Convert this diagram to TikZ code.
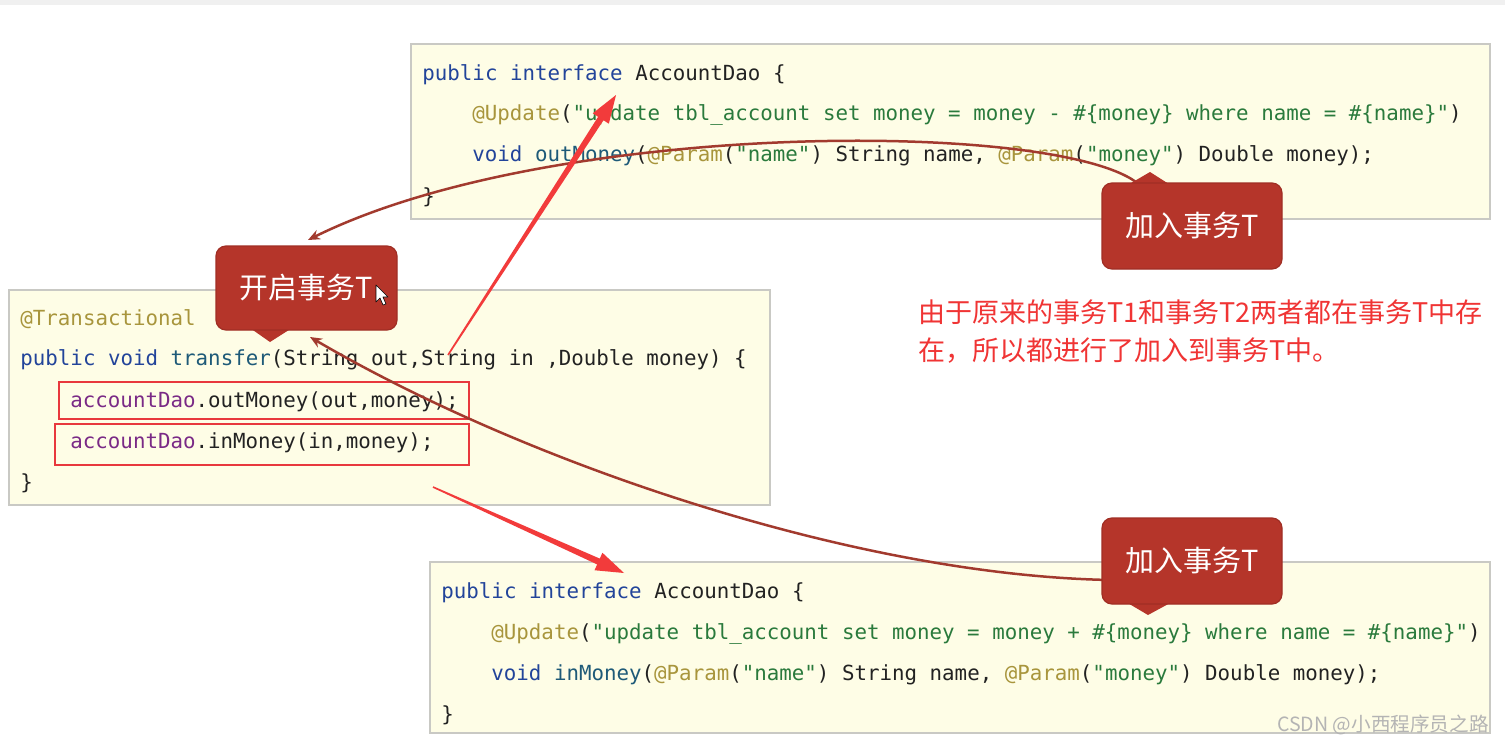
\documentclass[tikz,border=0pt]{standalone}
\usepackage{fontspec}
\usetikzlibrary{calc,arrows.meta}
\newfontfamily\codefont{DejaVu Sans Mono}
\newfontfamily\cjk{Noto Sans CJK SC}
\definecolor{boxfill}{HTML}{FEFDE6}
\definecolor{boxline}{HTML}{C9C9C4}
\definecolor{kwc}{HTML}{22449A}
\definecolor{fnc}{HTML}{1E5A78}
\definecolor{anc}{HTML}{A8953C}
\definecolor{stc}{HTML}{2A7A3C}
\definecolor{puc}{HTML}{7A2A86}
\definecolor{txtc}{HTML}{222222}
\definecolor{calred}{HTML}{B5352A}
\definecolor{calborder}{HTML}{A02E24}
\definecolor{brc}{HTML}{A23A2E}
\definecolor{redarr}{HTML}{F23B3B}
\definecolor{rbox}{HTML}{E8383D}
\definecolor{notered}{HTML}{F03434}
\definecolor{wmark}{HTML}{B4B4B4}
\newcommand\ckw[1]{\textcolor{kwc}{#1}}
\newcommand\cfn[1]{\textcolor{fnc}{#1}}
\newcommand\can[1]{\textcolor{anc}{#1}}
\newcommand\cst[1]{\textcolor{stc}{#1}}
\newcommand\cpu[1]{\textcolor{puc}{#1}}
\newcommand\taparrow[3]{%
  \coordinate (#3h) at ($(#2)!14pt!(#1)$);
  \fill[redarr] ($(#1)!0.4pt!90:(#2)$) -- ($(#3h)!1.6pt!-90:(#1)$) -- ($(#3h)!4.8pt!-90:(#1)$) -- (#2)
    -- ($(#3h)!4.8pt!90:(#1)$) -- ($(#3h)!1.6pt!90:(#1)$) -- ($(#1)!0.4pt!-90:(#2)$) -- cycle;}
\begin{document}
\begin{tikzpicture}[x=0.5pt,y=-0.5pt,
  codebox/.style={draw=boxline, fill=boxfill, line width=0.8pt, inner sep=0pt},
  codeline/.style={anchor=base west, inner sep=0pt, text=txtc, font=\codefont\fontsize{10.4pt}{12pt}\selectfont},
  redbox/.style={draw=rbox, line width=1.1pt, inner sep=0pt},
  callbox/.style={fill=calred, draw=calborder, line width=0.6pt, rounded corners=5pt, inner sep=0pt, text=white, font=\cjk\fontsize{14.5pt}{16pt}\selectfont},
  brarrow/.style={draw=brc, line width=1.25pt, -{Stealth[length=6pt,width=5pt]}},
  note/.style={anchor=base west, inner sep=0pt, text=notered, font=\cjk\fontsize{13.5pt}{16pt}\selectfont}]
\useasboundingbox (0,0) rectangle (1505,744);
\fill[white] (0,0) rectangle (1505,744);
\fill[black!6] (0,0) rectangle (1505,5);

% code boxes
\node[codebox, minimum width=539.5pt, minimum height=87.5pt] (topbox) at (950.5,131.5) {};
\node[codebox, minimum width=380.5pt, minimum height=107.5pt] (leftbox) at (389.5,397.5) {};
\node[codebox, minimum width=530pt, minimum height=85.5pt] (botbox) at (960,647.5) {};

% top code
\node[codeline] (t1) at (422,80) {\ckw{public interface} AccountDao \{};
\node[codeline] (t2) at (472,120) {\can{@Update}(\cst{"update tbl\_account set money = money - \#\{money\} where name = \#\{name\}"})};
\node[codeline] (t3) at (472,161) {\ckw{void} \cfn{outMoney}(\can{@Param}(\cst{"name"}) String name, \can{@Param}(\cst{"money"}) Double money);};
\node[codeline] (t4) at (422,203) {\}};

% left code
\node[codeline] (l1) at (20,325) {\can{@Transactional}};
\node[codeline] (l2) at (20,365) {\ckw{public void} \cfn{transfer}(String out,String in ,Double money) \{};
\node[codeline] (l3) at (70,407) {\cpu{accountDao}.outMoney(out,money);};
\node[codeline] (l4) at (70,448) {\cpu{accountDao}.inMoney(in,money);};
\node[codeline] (l5) at (20,489) {\}};

% bottom code
\node[codeline] (b1) at (441,598) {\ckw{public interface} AccountDao \{};
\node[codeline] (b2) at (491,639) {\can{@Update}(\cst{"update tbl\_account set money = money + \#\{money\} where name = \#\{name\}"})};
\node[codeline] (b3) at (491,680) {\ckw{void} \cfn{inMoney}(\can{@Param}(\cst{"name"}) String name, \can{@Param}(\cst{"money"}) Double money);};
\node[codeline] (b4) at (441,721) {\}};

% red highlight boxes
\node[redbox, minimum width=205pt, minimum height=18.5pt] (rb1) at (264,400.5) {};
\node[redbox, minimum width=207pt, minimum height=20.5pt] (rb2) at (262,444.5) {};

% curved brown connectors (behind callouts)
\coordinate (j1s) at (1136,182);
\coordinate (s1e) at (308,240);
\coordinate (j2s) at (1110,580);
\coordinate (s2e) at (310,337);
\draw[brarrow] (j1s) .. controls (1050,120) and (550,120) .. (s1e);
\draw[brarrow] (j2s) .. controls (850,575) and (520,460) .. (s2e);

% red straight arrows
\coordinate (ra1s) at (448,355);
\coordinate (ra1e) at (616,95);
\coordinate (ra2s) at (433,487);
\coordinate (ra2e) at (624,573);
\taparrow{ra1s}{ra1e}{ra1}
\taparrow{ra2s}{ra2e}{ra2}

% callouts
\fill[calred] (250,328) -- (270,342) -- (292,328) -- cycle;
\node[callbox, minimum width=90.5pt, minimum height=42pt] (cstart) at (306.5,288) {开启事务T};
\fill[calred] (1126,186) -- (1150,172) -- (1172,186) -- cycle;
\node[callbox, minimum width=90pt, minimum height=43pt] (cjoin1) at (1192,226) {加入事务T};
\fill[calred] (1126,602) -- (1148,615) -- (1172,602) -- cycle;
\node[callbox, minimum width=90pt, minimum height=43pt] (cjoin2) at (1192,561) {加入事务T};

% mouse cursor
\draw[black, fill=white, line width=0.3pt, line join=round] (376,285) -- (376,302) -- (380,298) -- (383,305) -- (386,304) -- (383,297) -- (388,297) -- cycle;

% note
\node[note] (n1) at (918,322) {由于原来的事务T1和事务T2两者都在事务T中存};
\node[note] (n2) at (918,360) {在，所以都进行了加入到事务T中。};

% watermark
\node[anchor=base east, inner sep=0pt, text=wmark, font=\cjk\fontsize{9.8pt}{11pt}\selectfont] (wm) at (1489,731) {CSDN @小西程序员之路};
\end{tikzpicture}
\end{document}
